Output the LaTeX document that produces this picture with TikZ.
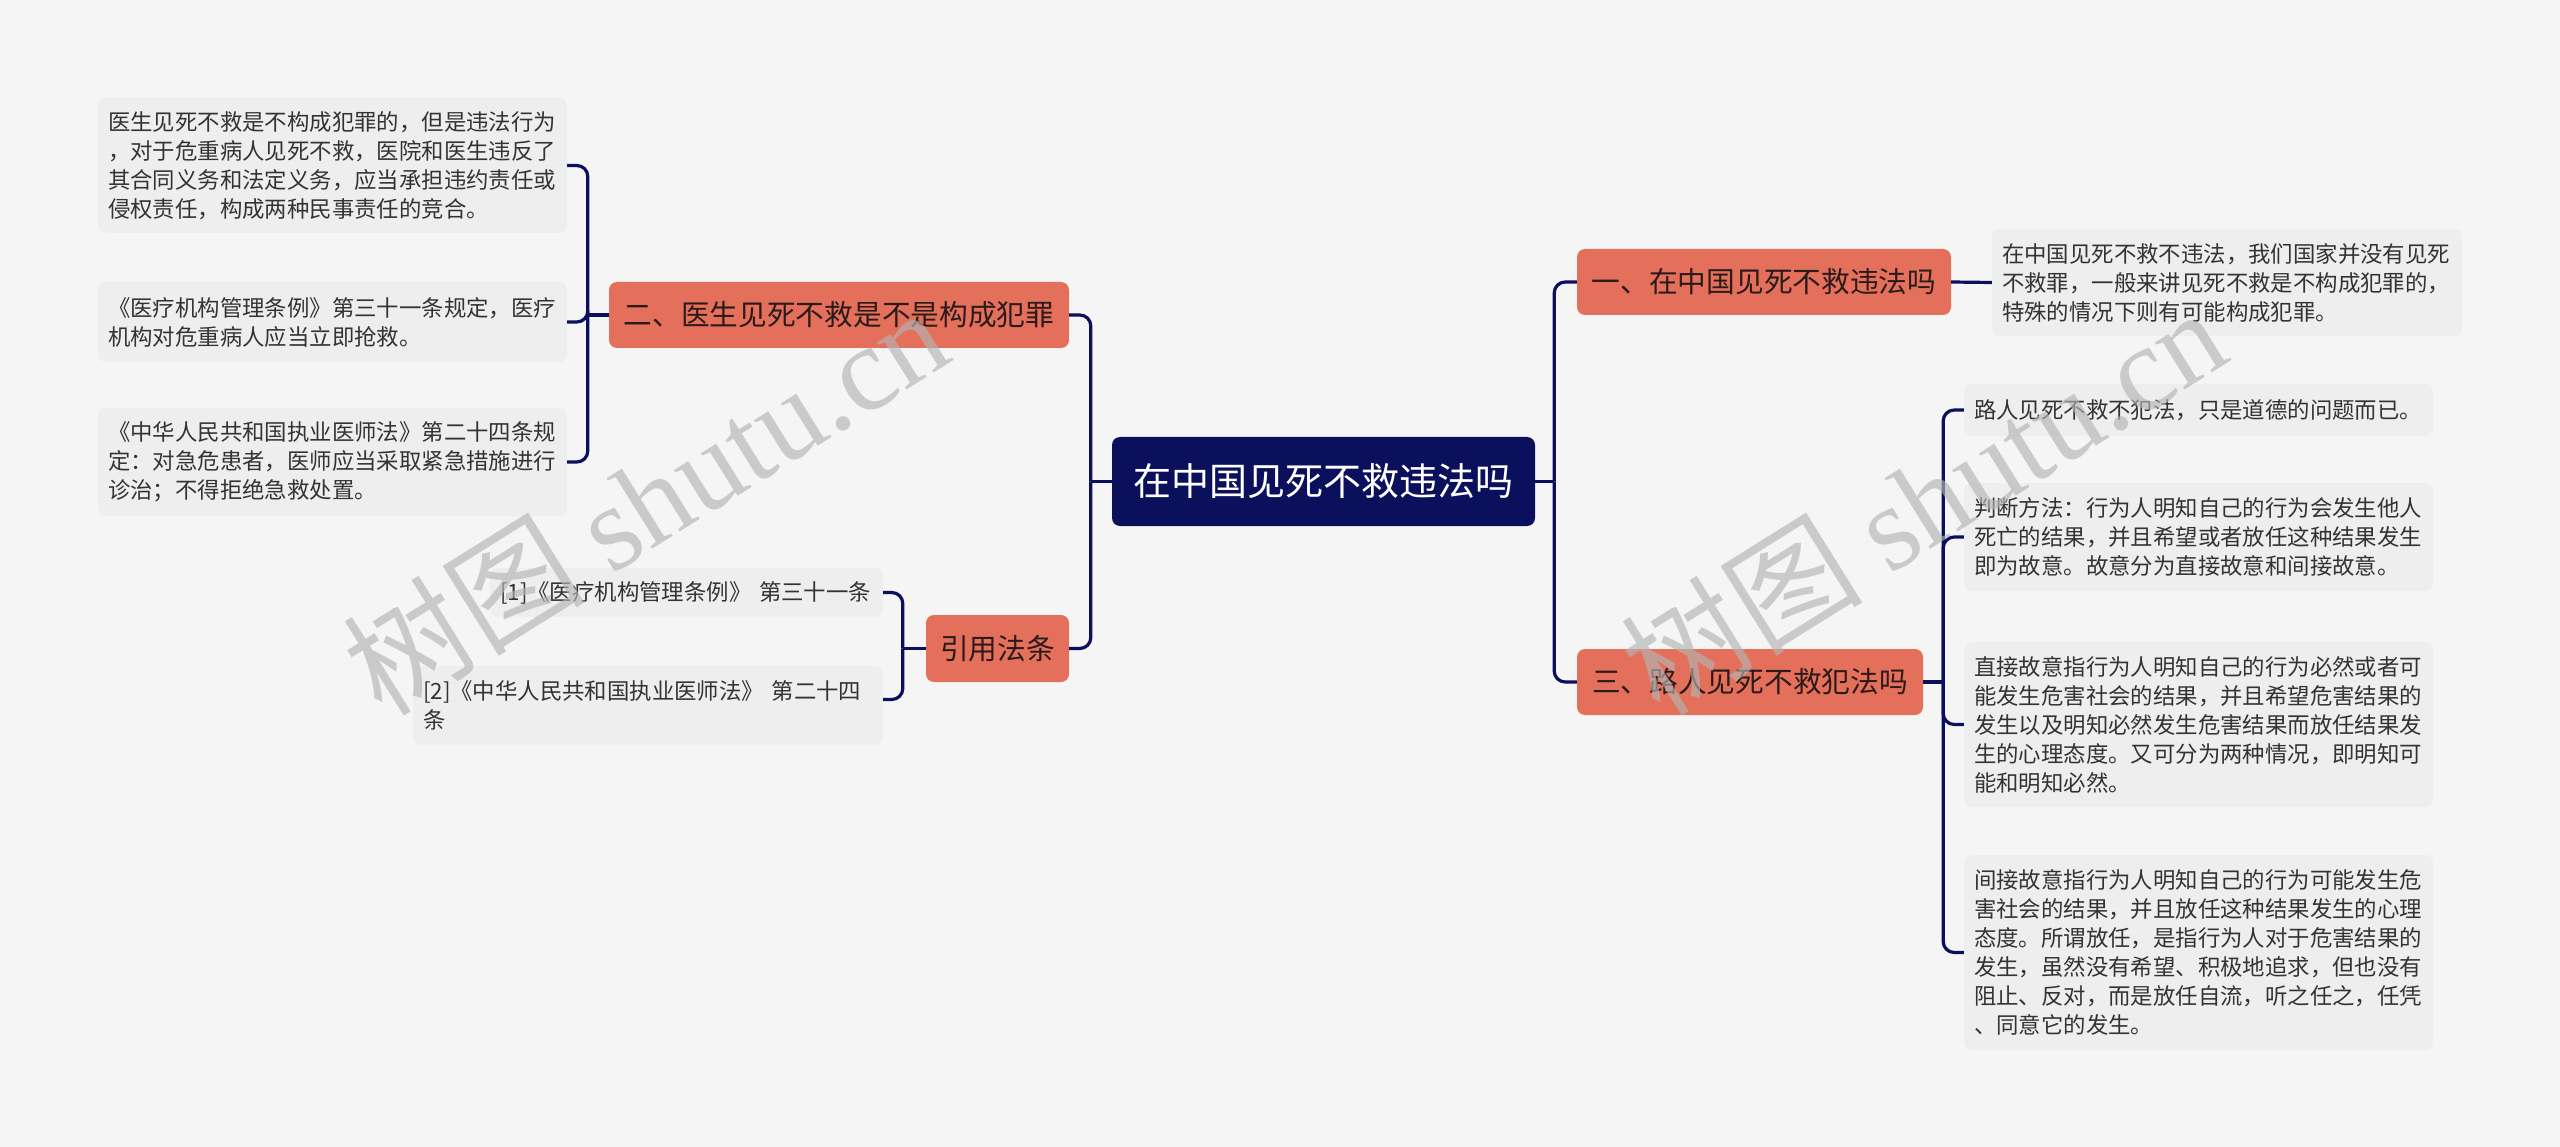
\documentclass[tikz,border=0pt]{standalone}
\usepackage{fontspec}
\setmainfont{Noto Sans CJK SC}
\newfontfamily\wmfont{Liberation Serif}
\newfontfamily\cjkfont{Noto Sans CJK SC}
\usetikzlibrary{calc}
\definecolor{bgc}{HTML}{F5F5F5}
\definecolor{navy}{HTML}{0B105C}
\definecolor{orangec}{HTML}{E4705B}
\definecolor{boxc}{HTML}{EEEEEE}
\definecolor{txtc}{HTML}{333333}
\definecolor{ltxt}{HTML}{2A1A1A}
\definecolor{wmc}{HTML}{B4B4B4}
\tikzset{
  rootbox/.style={fill=navy, text=white, rounded corners=8, font=\fontsize{38}{46}\selectfont, minimum width=423, minimum height=89, inner sep=0},
  lvlbox/.style={fill=orangec, text=ltxt, rounded corners=8, font=\fontsize{28.7}{34}\selectfont, minimum height=66, inner sep=0},
  leafbox/.style={fill=boxc, text=txtc, rounded corners=8, font=\fontsize{22.4}{29}\selectfont, text width=450, align=left, inner xsep=10, inner ysep=0},
  conn/.style={draw=navy, line width=3.2, rounded corners=11},
  wm/.style={text=wmc, opacity=0.65, rotate=32, font=\fontsize{121}{121}\selectfont}
}
\begin{document}
\begin{tikzpicture}[x=1pt,y=-1pt]
\fill[bgc] (0,0) rectangle (2560,1147);
\useasboundingbox (0,0) rectangle (2560,1147);

% root
\node[rootbox] (root) at (1323.5,481.5) {在中国见死不救违法吗};

% right side
\node[lvlbox, minimum width=374] (n1) at (1764,282) {一、在中国见死不救违法吗};
\node[leafbox, minimum height=107] (n1c) at (2227,282.5) {在中国见死不救不违法，我们国家并没有见死\\不救罪，一般来讲见死不救是不构成犯罪的，\\特殊的情况下则有可能构成犯罪。};
\node[lvlbox, minimum width=346] (n3) at (1750,682) {三、路人见死不救犯法吗};
\node[leafbox, text width=449, minimum height=52] (c1) at (2198.5,410) {路人见死不救不犯法，只是道德的问题而已。};
\node[leafbox, text width=449, minimum height=108] (c2) at (2198.5,537) {判断方法：行为人明知自己的行为会发生他人\\死亡的结果，并且希望或者放任这种结果发生\\即为故意。故意分为直接故意和间接故意。};
\node[leafbox, text width=449, minimum height=165] (c3) at (2198.5,724.5) {直接故意指行为人明知自己的行为必然或者可\\能发生危害社会的结果，并且希望危害结果的\\发生以及明知必然发生危害结果而放任结果发\\生的心理态度。又可分为两种情况，即明知可\\能和明知必然。};
\node[leafbox, text width=449, minimum height=195] (c4) at (2198.5,952.5) {间接故意指行为人明知自己的行为可能发生危\\害社会的结果，并且放任这种结果发生的心理\\态度。所谓放任，是指行为人对于危害结果的\\发生，虽然没有希望、积极地追求，但也没有\\阻止、反对，而是放任自流，听之任之，任凭\\、同意它的发生。};

% left side
\node[lvlbox, minimum width=460] (n2) at (839,315) {二、医生见死不救是不是构成犯罪};
\node[leafbox, text width=449, minimum height=135] (d1) at (332.5,165.5) {医生见死不救是不构成犯罪的，但是违法行为\\，对于危重病人见死不救，医院和医生违反了\\其合同义务和法定义务，应当承担违约责任或\\侵权责任，构成两种民事责任的竞合。};
\node[leafbox, text width=449, minimum height=80] (d2) at (332.5,322) {《医疗机构管理条例》第三十一条规定，医疗\\机构对危重病人应当立即抢救。};
\node[leafbox, text width=449, minimum height=108] (d3) at (332.5,462) {《中华人民共和国执业医师法》第二十四条规\\定：对急危患者，医师应当采取紧急措施进行\\诊治；不得拒绝急救处置。};
\node[lvlbox, minimum width=143, minimum height=67] (n4) at (997.5,648.5) {引用法条};
\node[leafbox, text width=373, minimum height=49] (e1) at (686.5,592.5) {[1]《医疗机构管理条例》 第三十一条};
\node[leafbox, text width=450, minimum height=79] (e2) at (648,705.5) {[2]《中华人民共和国执业医师法》 第二十四\\条};

% junctions
\coordinate (jr) at ($(root.east)+(19,0)$);
\coordinate (jl) at ($(root.west)+(-21,0)$);
\coordinate (j2) at ($(n2.west)+(-21,0)$);
\coordinate (j3) at ($(n3.east)+(20,0)$);
\coordinate (j4) at ($(n4.west)+(-23,0)$);

% connectors
\draw[conn] (root.east) -- (jr);
\draw[conn] (jr) |- (n1.west);
\draw[conn] (jr) |- (n3.west);
\draw[conn] (root.west) -- (jl);
\draw[conn] (jl) |- (n2.east);
\draw[conn] (jl) |- (n4.east);
\draw[conn] (n1.east) -- (n1c.west);
\draw[conn] (n3.east) -- (j3);
\draw[conn] (j3) |- (c1.west);
\draw[conn] (j3) |- (c2.west);
\draw[conn] (j3) |- (c3.west);
\draw[conn] (j3) |- (c4.west);
\draw[conn] (n2.west) -- (j2);
\draw[conn] (j2) |- (d1.east);
\draw[conn] (j2) |- (d2.east);
\draw[conn] (j2) |- (d3.east);
\draw[conn] (n4.west) -- (j4);
\draw[conn] (j4) |- (e1.east);
\draw[conn] (j4) |- ($(e2.east)+(0,-6)$);

% watermarks
\node[wm] (wm1) at (645,500) {{\cjkfont 树图} {\wmfont shutu.cn}};
\node[wm] (wm2) at (1923,500) {{\cjkfont 树图} {\wmfont shutu.cn}};
\end{tikzpicture}
\end{document}
